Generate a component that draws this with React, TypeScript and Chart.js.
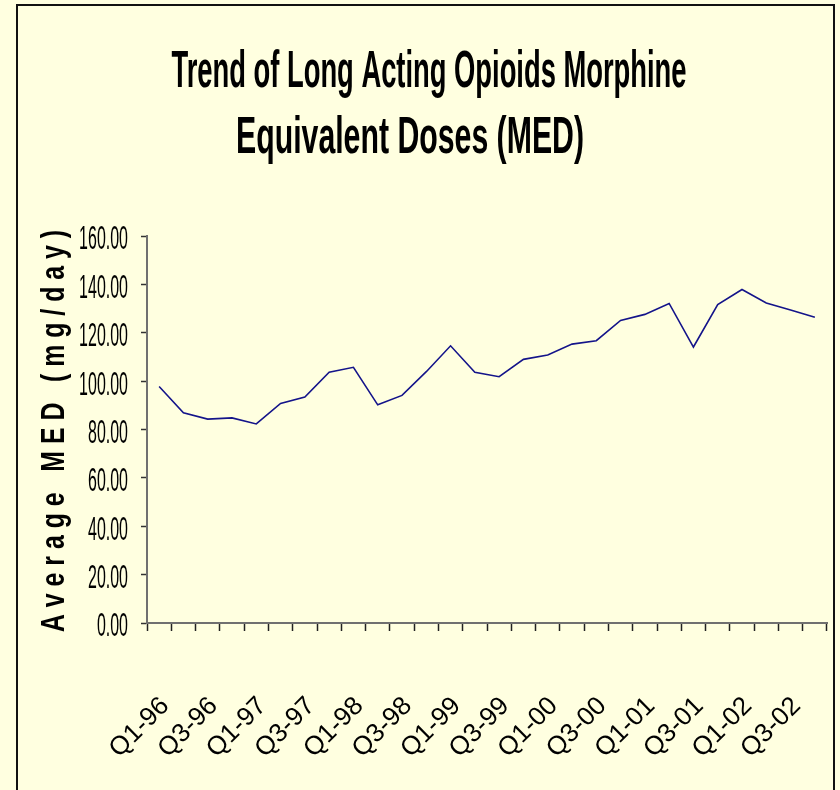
import { useEffect, useRef } from 'react';
import { Chart, registerables } from 'chart.js';

Chart.register(...registerables);

// ---- data ----
const QUARTERS = [
  'Q1-96', 'Q2-96', 'Q3-96', 'Q4-96',
  'Q1-97', 'Q2-97', 'Q3-97', 'Q4-97',
  'Q1-98', 'Q2-98', 'Q3-98', 'Q4-98',
  'Q1-99', 'Q2-99', 'Q3-99', 'Q4-99',
  'Q1-00', 'Q2-00', 'Q3-00', 'Q4-00',
  'Q1-01', 'Q2-01', 'Q3-01', 'Q4-01',
  'Q1-02', 'Q2-02', 'Q3-02', 'Q4-02',
];

const MED_VALUES = [
  97.8, 86.9, 84.3, 84.8,
  82.3, 90.8, 93.4, 103.7,
  105.7, 90.2, 94.1, 103.9,
  114.6, 103.7, 101.8, 109.0,
  110.8, 115.3, 116.7, 125.1,
  127.6, 132.1, 114.1, 131.6,
  137.9, 132.3, 129.4, 126.4,
];

const Y_MIN = 0;
const Y_MAX = 160;
const Y_STEP = 20;

const TITLE_LINES = ['Trend of Long Acting Opioids Morphine', 'Equivalent Doses (MED)'];
const Y_TITLE = 'A v e r a g e   M E D   ( m g / d a y )';

// ---- styles ----
const BG = '#FFFFE0';
const LINE_COLOR = '#14148a';
const FONT = "'Liberation Sans', Arial, sans-serif";

function drawScaledText(
  ctx: CanvasRenderingContext2D,
  text: string,
  x: number,
  y: number,
  font: string,
  align: CanvasTextAlign,
  baseline: CanvasTextBaseline,
  scaleX: number,
  rotation = 0,
) {
  ctx.save();
  ctx.font = font;
  ctx.fillStyle = '#000';
  ctx.translate(x, y);
  if (rotation) ctx.rotate(rotation);
  ctx.scale(scaleX, 1);
  ctx.textAlign = align;
  ctx.textBaseline = baseline;
  ctx.fillText(text, 0, 0);
  ctx.restore();
}

function fitScale(ctx: CanvasRenderingContext2D, text: string, font: string, target: number) {
  ctx.save();
  ctx.font = font;
  const w = ctx.measureText(text).width;
  ctx.restore();
  return w > 0 ? target / w : 1;
}

const framePlugin = {
  id: 'frameAndText',
  beforeDraw(chart: any) {
    const ctx = chart.ctx as CanvasRenderingContext2D;
    ctx.save();
    ctx.fillStyle = BG;
    ctx.fillRect(0, 0, chart.width, chart.height);
    ctx.restore();
  },
  afterDraw(chart: any) {
    const ctx = chart.ctx as CanvasRenderingContext2D;
    // frame
    ctx.save();
    ctx.strokeStyle = '#111';
    ctx.lineWidth = 2;
    ctx.strokeRect(17, 5, 817, 820);
    ctx.restore();

    // title (tall condensed)
    const tFont = `bold 52px ${FONT}`;
    const s1 = fitScale(ctx, TITLE_LINES[0], tFont, 515);
    drawScaledText(ctx, TITLE_LINES[0], 429, 87, tFont, 'center', 'alphabetic', s1);
    const s2 = fitScale(ctx, TITLE_LINES[1], tFont, 348);
    drawScaledText(ctx, TITLE_LINES[1], 410, 153, tFont, 'center', 'alphabetic', s2);

    // y tick labels
    const yScale = chart.scales.y;
    const lFont = `34px ${FONT}`;
    yScale.ticks.forEach((t: any) => {
      const py = yScale.getPixelForValue(t.value);
      drawScaledText(ctx, Number(t.value).toFixed(2), 128, py + 4, lFont, 'right', 'middle', 0.47);
    });

    // y axis title (rotated)
    const yFont = `bold 33px ${FONT}`;
    const sy = fitScale(ctx, Y_TITLE, yFont, 402);
    drawScaledText(ctx, Y_TITLE, 55, 431, yFont, 'center', 'middle', sy, -Math.PI / 2);
  },
};

export default function App() {
  const ref = useRef<HTMLCanvasElement | null>(null);

  useEffect(() => {
    document.body.style.margin = '0';
    document.body.style.background = BG;
    const canvas = ref.current;
    if (!canvas) return;
    const chart = new Chart(canvas, {
      type: 'line',
      data: {
        labels: QUARTERS,
        datasets: [
          {
            data: MED_VALUES,
            borderColor: LINE_COLOR,
            borderWidth: 1.6,
            pointRadius: 0,
            pointHoverRadius: 0,
            fill: false,
            tension: 0,
          },
        ],
      },
      options: {
        animation: false,
        responsive: false,
        maintainAspectRatio: false,
        events: [],
        layout: { padding: { left: 0, right: 13, top: 236, bottom: 0 } },
        plugins: {
          legend: { display: false },
          title: { display: false },
          tooltip: { enabled: false },
        },
        scales: {
          x: {
            type: 'category',
            offset: true,
            grid: {
              offset: true,
              drawOnChartArea: false,
              drawTicks: true,
              tickLength: 8,
              tickColor: '#222',
              tickWidth: 1.5,
            },
            border: { display: true, color: '#707070', width: 2 },
            ticks: {
              autoSkip: false,
              minRotation: 45,
              maxRotation: 45,
              padding: 60,
              labelOffset: 6,
              color: '#000',
              font: { family: FONT, size: 26 },
              callback: (_v: any, i: number) => (i % 2 === 0 ? QUARTERS[i] : ''),
            },
            afterFit: (s: any) => {
              s.height = 167;
              s.paddingLeft = 0;
              s.paddingRight = 0;
            },
          },
          y: {
            min: Y_MIN,
            max: Y_MAX,
            ticks: { stepSize: Y_STEP, display: false },
            grid: {
              drawOnChartArea: false,
              drawTicks: true,
              tickLength: 6,
              tickColor: '#333',
              tickWidth: 1.5,
            },
            border: { display: true, color: '#707070', width: 2 },
            afterFit: (s: any) => {
              s.width = 147;
              s.paddingTop = 0;
              s.paddingBottom = 0;
            },
          },
        },
      },
      plugins: [framePlugin],
    } as any);
    return () => chart.destroy();
  }, []);

  return (
    <div style={{ position: 'absolute', left: 0, top: 0, width: 840, height: 790, background: BG }}>
      <canvas ref={ref} width={840} height={790} style={{ display: 'block', width: 840, height: 790 }} />
    </div>
  );
}
